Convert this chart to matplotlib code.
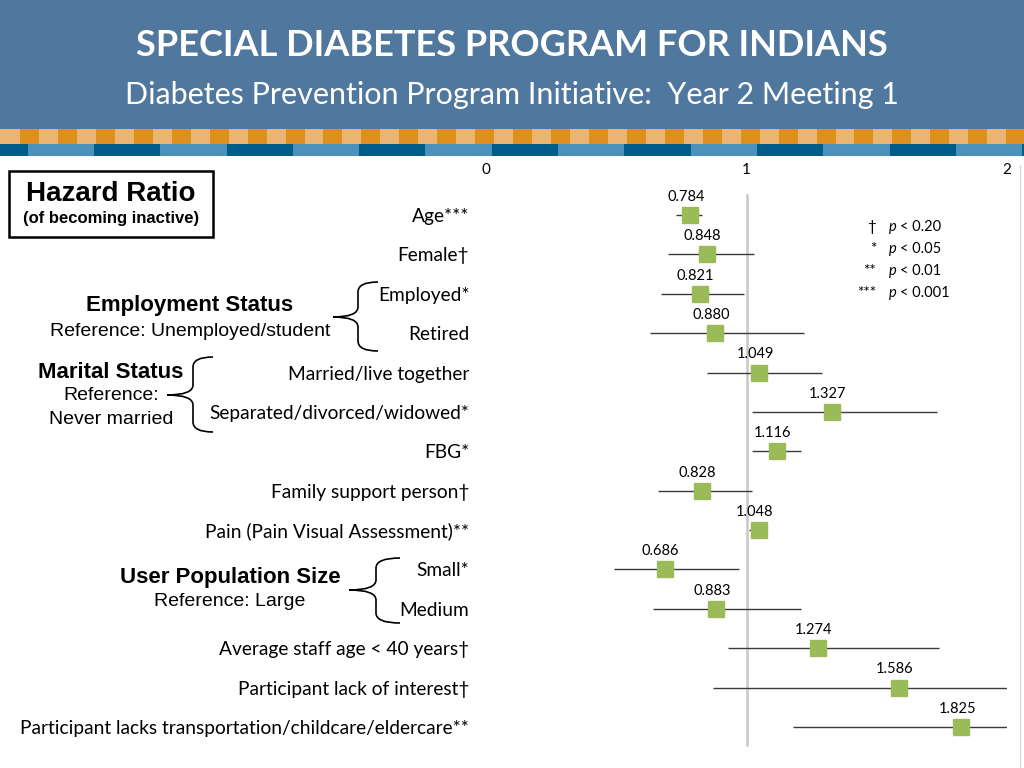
import numpy as np
import matplotlib.pyplot as plt
from matplotlib.patches import Rectangle, PathPatch
from matplotlib.path import Path

# forest plot data
labels = ['Age***', 'Female\u2020', 'Employed*', 'Retired', 'Married/live together',
          'Separated/divorced/widowed*', 'FBG*', 'Family support person\u2020',
          'Pain (Pain Visual Assessment)**', 'Small*', 'Medium',
          'Average staff age < 40 years\u2020', 'Participant lack of interest\u2020',
          'Participant lacks transportation/childcare/eldercare**']
hr = [0.784, 0.848, 0.821, 0.880, 1.049, 1.327, 1.116, 0.828, 1.048, 0.686, 0.883, 1.274, 1.586, 1.825]
ci_lo = [0.73, 0.70, 0.67, 0.63, 0.85, 1.02, 1.02, 0.66, 1.01, 0.49, 0.64, 0.93, 0.87, 1.18]
ci_hi = [0.83, 1.03, 0.99, 1.22, 1.29, 1.73, 1.21, 1.02, 1.08, 0.97, 1.21, 1.74, 2.00, 2.00]
x_ticks = [0, 1, 2]

legend_sym = ['\u2020', '*', '**', '***']
legend_txt = ['< 0.20', '< 0.05', '< 0.01', '< 0.001']

LATO = ['Lato', 'DejaVu Sans']
ARIAL = ['Liberation Sans', 'DejaVu Sans']
GREEN = '#9bbb59'

fig = plt.figure(figsize=(10.24, 7.68), dpi=100)

# overlay axes in pixel coords (y down) for slide decoration
bg = fig.add_axes([0, 0, 1, 1])
bg.set_xlim(0, 1024)
bg.set_ylim(768, 0)
bg.axis('off')

# header band
bg.add_patch(Rectangle((0, 0), 1024, 129, color='#50789e', lw=0))
bg.add_patch(Rectangle((0, 129), 1024, 15, color='#ebb473', lw=0))
for x0 in np.arange(20, 1024, 37.93):
    bg.add_patch(Rectangle((x0, 129), 19, 15, color='#df8f1f', lw=0))
bg.add_patch(Rectangle((0, 144), 1024, 12, color='#4a92bb', lw=0))
for x0 in np.arange(-38.6, 1024, 132.6):
    bg.add_patch(Rectangle((x0, 144), 66.3, 12, color='#005c88', lw=0))

bg.text(512, 45, 'SPECIAL DIABETES PROGRAM FOR INDIANS', color='white', fontsize=26,
        fontweight='bold', family=LATO, ha='center', va='center')
bg.text(512, 95, 'Diabetes Prevention Program Initiative:  Year 2 Meeting 1', color='white',
        fontsize=22, family=LATO, ha='center', va='center')

# faint slide edge on the right
bg.plot([1020, 1020], [165, 768], color='#d9d9d9', lw=1)

# Hazard ratio box
bg.add_patch(Rectangle((9, 171), 204, 66, fill=False, ec='black', lw=1.8))
bg.text(111, 194, 'Hazard Ratio', fontsize=20, fontweight='bold', family=ARIAL, ha='center', va='center')
bg.text(111, 219, '(of becoming inactive)', fontsize=12, fontweight='bold', family=ARIAL, ha='center', va='center')


def brace(x_tip, x_v, x_arm, y_top, y_tip, y_bot, r=10):
    verts = [(x_arm, y_top), (x_v, y_top), (x_v, y_top + r),
             (x_v, y_tip - r), (x_v, y_tip), (x_tip, y_tip),
             (x_v, y_tip), (x_v, y_tip + r),
             (x_v, y_bot - r), (x_v, y_bot), (x_arm, y_bot)]
    codes = [Path.MOVETO, Path.CURVE3, Path.CURVE3,
             Path.LINETO, Path.CURVE3, Path.CURVE3,
             Path.CURVE3, Path.CURVE3,
             Path.LINETO, Path.CURVE3, Path.CURVE3]
    bg.add_patch(PathPatch(Path(verts, codes), fill=False, ec='black', lw=1.2))


# group annotations
bg.text(190, 306, 'Employment Status', fontsize=16, fontweight='bold', family=ARIAL, ha='center', va='center')
bg.text(190, 331, 'Reference: Unemployed/student', fontsize=14, family=ARIAL, ha='center', va='center')
brace(333, 358, 378, 282, 317, 351)

bg.text(111, 372, 'Marital Status', fontsize=16, fontweight='bold', family=ARIAL, ha='center', va='center')
bg.text(111, 396, 'Reference:', fontsize=14, family=ARIAL, ha='center', va='center')
bg.text(111, 420, 'Never married', fontsize=14, family=ARIAL, ha='center', va='center')
brace(167, 193, 213, 357, 395, 432)

bg.text(230, 577, 'User Population Size', fontsize=16, fontweight='bold', family=ARIAL, ha='center', va='center')
bg.text(230, 602, 'Reference: Large', fontsize=14, family=ARIAL, ha='center', va='center')
brace(349, 376, 400, 558, 590, 623)

# significance legend
for i, (s, t) in enumerate(zip(legend_sym, legend_txt)):
    yy = 227 + 22 * i
    bg.text(876, yy, s, fontsize=11, family=LATO, ha='right', va='center')
    bg.text(889, yy, 'p', fontsize=10.5, family=LATO, style='italic', ha='left', va='center')
    bg.text(900, yy, t, fontsize=10.5, family=LATO, ha='left', va='center')

# forest plot axes
ax = fig.add_axes([486 / 1024, 8 / 768, (1007 - 486) / 1024, 575 / 768])
ax.patch.set_alpha(0)
n = len(labels)
y = np.arange(n)
ax.set_xlim(0, 2)
ax.set_ylim(13.84, -0.762)
for s in ax.spines.values():
    s.set_visible(False)

ax.plot([1, 1], [-0.51, 13.46], color='#c8c8c8', lw=1.8, zorder=1)
ax.hlines(y, ci_lo, ci_hi, color='#3a3a3a', lw=1, zorder=2)
ax.plot(hr, y, 's', color=GREEN, markersize=11.5, zorder=3)
for v, yy in zip(hr, y):
    ax.annotate(f'{v:.3f}', (v, yy), xytext=(-3, 13), textcoords='offset points',
                ha='center', va='center', fontsize=10.5, family=LATO)

ax.xaxis.tick_top()
ax.set_xticks(x_ticks)
ax.set_xticklabels([str(t) for t in x_ticks], family=LATO, fontsize=11)
ax.tick_params(axis='x', length=0, pad=6)
ax.set_yticks(y)
ax.set_yticklabels(labels, family=LATO, fontsize=13.8)
ax.tick_params(axis='y', length=0, pad=12)

fig.savefig('out.png', dpi=100)
